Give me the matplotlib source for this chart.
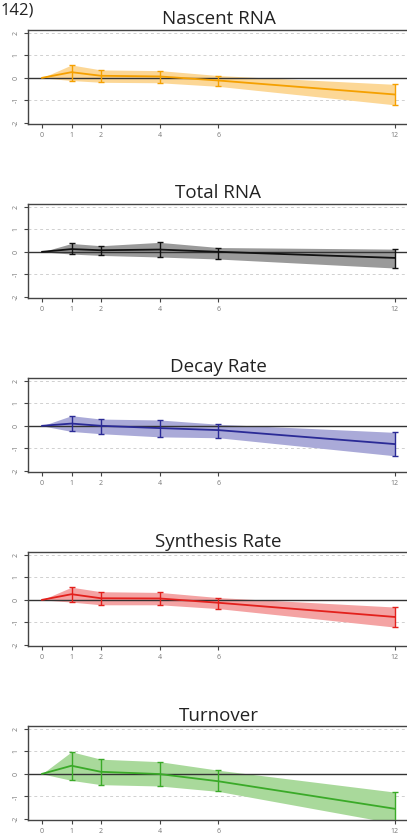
import numpy as np
import matplotlib
matplotlib.use("Agg")
import matplotlib.pyplot as plt

# time points (hours)
hours = [0, 1, 2, 4, 6, 12]

titles = ["Nascent RNA", "Total RNA", "Decay Rate", "Synthesis Rate", "Turnover"]

# mean log fold change and upper / lower bounds per panel
nascent_mean = [0, 0.25, 0.09, 0.06, -0.12, -0.74]
nascent_hi = [0, 0.57, 0.35, 0.32, 0.10, -0.29]
nascent_lo = [0, -0.12, -0.20, -0.22, -0.38, -1.20]

total_mean = [0, 0.12, 0.07, 0.10, 0.0, -0.27]
total_hi = [0, 0.37, 0.27, 0.42, 0.19, 0.12]
total_lo = [0, -0.10, -0.16, -0.23, -0.32, -0.72]

decay_mean = [0, 0.10, 0.0, -0.10, -0.19, -0.81]
decay_hi = [0, 0.45, 0.30, 0.26, 0.07, -0.29]
decay_lo = [0, -0.25, -0.35, -0.49, -0.53, -1.33]

synth_mean = [0, 0.25, 0.07, 0.06, -0.13, -0.76]
synth_hi = [0, 0.56, 0.36, 0.33, 0.10, -0.32]
synth_lo = [0, -0.10, -0.22, -0.22, -0.39, -1.21]

turn_mean = [0, 0.36, 0.09, -0.01, -0.33, -1.55]
turn_hi = [0, 0.98, 0.65, 0.54, 0.16, -0.81]
turn_lo = [0, -0.29, -0.48, -0.54, -0.78, -2.20]

means = [nascent_mean, total_mean, decay_mean, synth_mean, turn_mean]
highs = [nascent_hi, total_hi, decay_hi, synth_hi, turn_hi]
lows = [nascent_lo, total_lo, decay_lo, synth_lo, turn_lo]

line_colors = ["#f5a000", "#111111", "#2a2a96", "#e3201c", "#3aaa28"]
band_colors = ["#fcd796", "#9a9a9a", "#aaaad8", "#f4a3a3", "#a9d99b"]

fig = plt.figure(figsize=(4.07, 8.39), dpi=100)
plt.rcParams['font.family'] = ['Open Sans', 'DejaVu Sans']

bottoms = [0.8522, 0.6448, 0.4374, 0.23, 0.0226]
for i in range(5):
    ax = fig.add_axes([0.0688, bottoms[i], 0.936, 0.112])
    x = np.array(hours, dtype=float)
    ax.fill_between(x, lows[i], highs[i], color=band_colors[i], lw=0, zorder=1)
    ax.axhline(0, color="#333333", lw=1.0, zorder=2)
    # light dashed grid
    for g in [-1, 1, 2]:
        ax.axhline(g, color="#d0d0d0", lw=0.7, ls=(0, (3, 3)), zorder=0)
    ax.plot(x, means[i], color=line_colors[i], lw=1.3, zorder=3)
    m = np.array(means[i])
    ax.errorbar(x[1:], m[1:], yerr=[m[1:] - np.array(lows[i][1:]), np.array(highs[i][1:]) - m[1:]],
                fmt="none", ecolor=line_colors[i], elinewidth=1.0, capsize=2.5, capthick=1.0, zorder=3)
    ax.set_xlim(-0.48, 12.48)
    ax.set_ylim(-2.05, 2.12)
    ax.set_xticks(hours)
    ax.set_yticks([-2, -1, 0, 1, 2])
    ax.set_yticklabels(["-2", "-1", "0", "1", "2"], rotation=90, va="center")
    ax.tick_params(axis="both", labelsize=5, colors="#444444", labelcolor="#777777",
                   length=3, width=0.8, pad=3)
    for s in ["left", "top", "bottom"]:
        ax.spines[s].set_color("#444444")
        ax.spines[s].set_linewidth(1.0)
    ax.spines["right"].set_visible(False)
    ax.set_title(titles[i], fontsize=13.5, color="#222222", pad=4)

fig.text(0.002, 0.997, "142)", fontsize=12, color="#222222", ha="left", va="top")

fig.savefig("out.png", dpi=100)
